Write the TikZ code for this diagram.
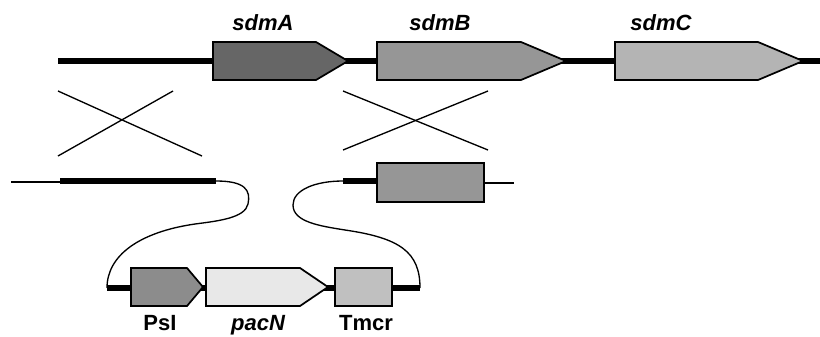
\documentclass[tikz,border=0pt]{standalone}
\usepackage{fontspec}
\setmainfont{Liberation Sans}
\begin{document}
\begin{tikzpicture}[x=0.75pt,y=-0.75pt,
  lab/.style={font=\fontsize{16.5}{19}\selectfont\bfseries, anchor=base, inner sep=0pt},
  ilab/.style={lab, font=\fontsize{16.5}{19}\selectfont\bfseries\itshape},
  gene/.style={draw=black, line width=1.3pt, line join=miter},
  dna/.style={line width=3.8pt},
  thin/.style={line width=1pt},
  cross/.style={line width=1pt}]
\useasboundingbox (0,0) rectangle (820,336);
\definecolor{gA}{HTML}{666666}
\definecolor{gB}{HTML}{969696}
\definecolor{gC}{HTML}{B4B4B4}
\definecolor{gP}{HTML}{8C8C8C}
\definecolor{gN}{HTML}{E8E8E8}
\definecolor{gT}{HTML}{C0C0C0}
% top chromosome
\coordinate (t0) at (58,61);
\coordinate (t1) at (822,61);
\draw[dna] (t0) -- (t1);
\draw[gene, fill=gA] (213,42) -- (316,42) -- (348,61) -- (316,80) -- (213,80) -- cycle;
\draw[gene, fill=gB] (377,42) -- (521,42) -- (566,61) -- (521,80) -- (377,80) -- cycle;
\draw[gene, fill=gC] (615,42) -- (758,42) -- (803,61) -- (758,80) -- (615,80) -- cycle;
\node[ilab] (lA) at (263,30) {sdmA};
\node[ilab] (lB) at (440,30) {sdmB};
\node[ilab] (lC) at (661,30) {sdmC};
% crossovers
\draw[cross] (58,91) -- (202,156);
\draw[cross] (58,156) -- (173,91);
\draw[cross] (343,91) -- (488,150);
\draw[cross] (343,150) -- (488,91);
% lower left flank
\coordinate (l0) at (11,182);
\coordinate (l1) at (60,182);
\coordinate (l2) at (216,181);
\draw[thin] (l0) -- (l1);
\draw[dna] (l1 |- l2) -- (l2);
% lower right flank
\coordinate (r0) at (343,181);
\coordinate (r1) at (377,181);
\draw[dna] (r0) -- (r1);
\draw[gene, fill=gB] (377,163) rectangle (484,202);
\coordinate (r2) at (484,183);
\coordinate (r3) at (514,183);
\draw[thin] (r2) -- (r3);
% cassette
\coordinate (c0) at (107,288);
\coordinate (c1) at (420,288);
\draw[dna] (c0) -- (c1);
\draw[gene, fill=gP] (131,268) -- (187,268) -- (203,287) -- (187,306) -- (131,306) -- cycle;
\draw[gene, fill=gN] (206,268) -- (300,268) -- (328,287) -- (300,306) -- (206,306) -- cycle;
\draw[gene, fill=gT] (335,268) rectangle (392,306);
\node[lab] (lP) at (160,330) {PsI};
\node[ilab] (lN) at (258,330) {pacN};
\node[lab] (lT) at (366,330) {Tmcr};
% connecting curves
\draw[thin] (l2) .. controls (245,181) and (251,190) .. (248,204)
  .. controls (245,218) and (218,221) .. (195,224)
  .. controls (140,232) and (107,255) .. (c0);
\draw[thin] (r0) .. controls (315,181) and (293,190) .. (293,205)
  .. controls (293,222) and (320,226) .. (345,230)
  .. controls (400,238) and (420,252) .. (c1);
\end{tikzpicture}
\end{document}
